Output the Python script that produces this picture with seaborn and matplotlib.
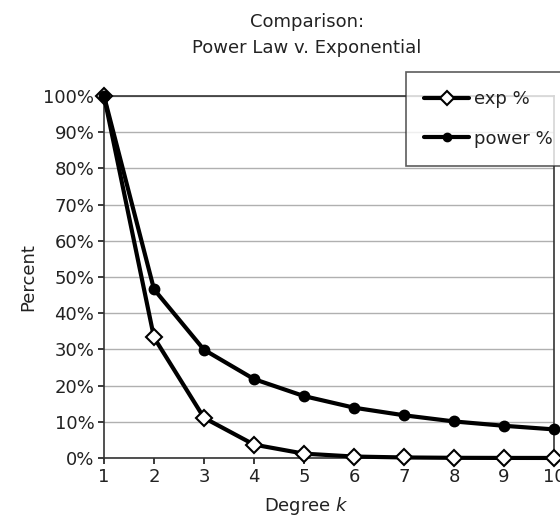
import matplotlib
matplotlib.use("Agg")
import matplotlib.pyplot as plt
import pandas as pd
import seaborn as sns
from matplotlib.ticker import PercentFormatter

degree = [1, 2, 3, 4, 5, 6, 7, 8, 9, 10]
exp_pct = [100, 33.3, 11.1, 3.7, 1.2, 0.4, 0.15, 0.05, 0.02, 0.01]
power_pct = [100, 46.6, 29.9, 21.8, 17.1, 13.9, 11.8, 10.1, 8.9, 7.9]

df = pd.DataFrame({"k": degree, "exp %": exp_pct, "power %": power_pct})
long_df = df.melt(id_vars="k", var_name="series", value_name="pct")

sns.set_theme(style="white")
plt.rcParams["font.family"] = ["DejaVu Sans"]

fig = plt.figure(figsize=(5.6, 5.19), dpi=100)
ax = fig.add_axes([104 / 560, 1 - 458 / 519, 450 / 560, 362 / 519])

sns.lineplot(
    data=long_df, x="k", y="pct", hue="series", style="series",
    palette={"exp %": "black", "power %": "black"},
    markers={"exp %": "D", "power %": "o"}, dashes=False,
    linewidth=3, markersize=8, ax=ax, clip_on=False, legend=False,
)
# marker styling: hollow diamonds, solid dots
for line, (face, size) in zip(ax.lines, [("white", 8), ("black", 7)]):
    line.set_markerfacecolor(face)
    line.set_markeredgecolor("black")
    line.set_markeredgewidth(1.5)
    line.set_markersize(size)
    line.set_zorder(5)

ax.set_xlim(1, 10)
ax.set_ylim(0, 100)
ax.set_xticks(degree)
ax.set_yticks(range(0, 101, 10))
ax.yaxis.set_major_formatter(PercentFormatter(decimals=0))
ax.grid(axis="y", color="#b0b0b0", linewidth=1)
ax.tick_params(axis="both", labelsize=13, colors="#222222", length=4,
               bottom=True, left=True, pad=3)
for side in ["left", "bottom", "right", "top"]:
    ax.spines[side].set_color("#333333")
    ax.spines[side].set_linewidth(1.2)
ax.set_xlabel("")
ax.set_ylabel("")

fig.text(307 / 560, 1 - 35 / 519, "Comparison:\nPower Law v. Exponential",
         ha="center", va="center", fontsize=13, color="#222222", linespacing=1.55)
fig.text(306 / 560, 1 - 506 / 519, "Degree $k$", ha="center", va="center",
         fontsize=13, color="#222222")
fig.text(28 / 560, 1 - 277 / 519, "Percent", ha="center", va="center",
         rotation=90, fontsize=13, color="#222222")

handles = [
    plt.Line2D([], [], color="black", lw=3, marker="D", markersize=7,
               markerfacecolor="white", markeredgecolor="black", markeredgewidth=1.5),
    plt.Line2D([], [], color="black", lw=3, marker="o", markersize=6),
]
leg = fig.legend(handles, ["exp %", "power %"], loc="upper left",
                 bbox_to_anchor=(406 / 560, 1 - 72 / 519), borderaxespad=0,
                 frameon=True, fancybox=False, fontsize=13, handlelength=2.5,
                 labelspacing=1.2, borderpad=1.0, handletextpad=0.25)
leg.get_frame().set_edgecolor("#333333")
leg.get_frame().set_linewidth(1.2)
for t in leg.get_texts():
    t.set_color("#222222")

fig.savefig("out.png", dpi=100)
